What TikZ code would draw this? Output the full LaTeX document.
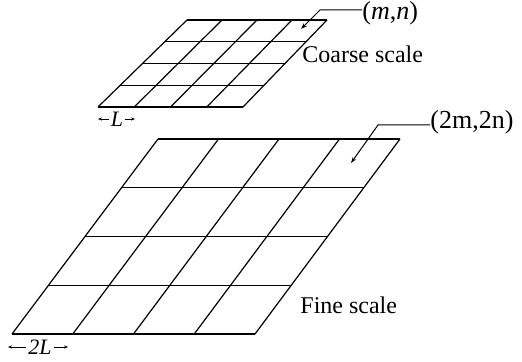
\documentclass[tikz,border=0pt]{standalone}
\usepackage{fontspec}
\setmainfont{Liberation Serif}
\usetikzlibrary{calc,arrows.meta}
\tikzset{
  gridline/.style={line width=0.6pt},
  leader/.style={{Stealth[length=3pt,width=2pt]}-, line width=0.5pt},
  dimarrow/.style={-{Stealth[length=2pt,width=1.6pt]}, line width=0.45pt},
  scalelabel/.style={anchor=west, inner sep=0pt, font=\fontsize{12}{14}\selectfont},
  coordlabel/.style={anchor=west, inner sep=0pt, font=\fontsize{13}{15}\selectfont},
  dimlabel/.style={inner sep=0.8pt, font=\fontsize{11}{13}\selectfont\itshape}
}

\begin{document}
\begin{tikzpicture}[x=0.5pt, y=-0.5pt]
  \useasboundingbox (0,0) rectangle (522,362);
  \coordinate (cBL) at (98,107);
  \coordinate (cBR) at (243,107);
  \coordinate (cTL) at (187,20);
  \coordinate (cTR) at (327,20);
  \coordinate (fBL) at (12,334);
  \coordinate (fBR) at (255,334);
  \coordinate (fTL) at (158,139);
  \coordinate (fTR) at (400,139);
  \foreach \k in {0,...,4}{
    \draw[gridline] ($(cBL)!\k/4!(cBR)$) -- ($(cTL)!\k/4!(cTR)$);
    \draw[gridline] ($(cBL)!\k/4!(cTL)$) -- ($(cBR)!\k/4!(cTR)$);
    \draw[gridline] ($(fBL)!\k/4!(fBR)$) -- ($(fTL)!\k/4!(fTR)$);
    \draw[gridline] ($(fBL)!\k/4!(fTL)$) -- ($(fBR)!\k/4!(fTR)$);
  }

  \coordinate (cTip) at (301,29);
  \coordinate (cBend) at (320,10);
  \coordinate (cEnd) at (362,10);
  \node[coordlabel] (mn) at (362,13.5) {(\textit{m},\textit{n})};
  \draw[leader] (cTip) -- (cBend) -- (cEnd);
  \node[scalelabel] (coarse) at (302,54) {Coarse scale};

  \coordinate (fTip) at (351,163);
  \coordinate (fBend) at (378,125);
  \coordinate (fEnd) at (430,125);
  \node[coordlabel] (mn2) at (430,122.5) {(2m,2n)};
  \draw[leader] (fTip) -- (fBend) -- (fEnd);
  \node[scalelabel] (fine) at (300,305.5) {Fine scale};

  \node[dimlabel] (lc) at (117,119) {L};
  \coordinate (lcLeft) at (98,119);
  \coordinate (lcRight) at (135,119);
  \draw[dimarrow] (lc) -- (lcLeft);
  \draw[dimarrow] (lc) -- (lcRight);

  \node[dimlabel] (lf) at (40,347) {2L};
  \coordinate (lfLeft) at (8,347);
  \coordinate (lfRight) at (68,347);
  \draw[dimarrow] (lf) -- (lfLeft);
  \draw[dimarrow] (lf) -- (lfRight);
\end{tikzpicture}
\end{document}
